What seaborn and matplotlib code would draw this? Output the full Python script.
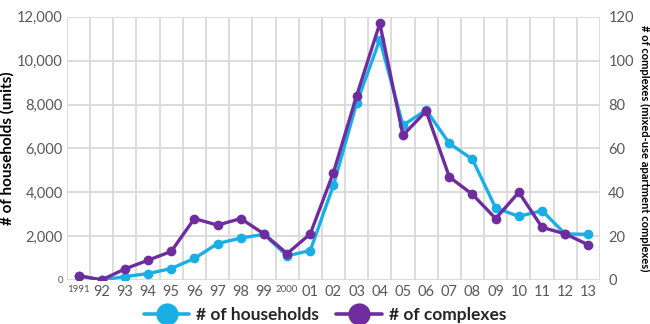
import matplotlib
matplotlib.use("Agg")
import matplotlib.pyplot as plt
import seaborn as sns
import pandas as pd
from matplotlib.lines import Line2D
from matplotlib.ticker import FuncFormatter, MultipleLocator

years = ["1991", "92", "93", "94", "95", "96", "97", "98", "99", "2000", "01", "02",
         "03", "04", "05", "06", "07", "08", "09", "10", "11", "12", "13"]
households = [180, 0, 150, 290, 520, 980, 1660, 1910, 2080, 1100, 1340, 4320,
              8060, 10960, 7050, 7750, 6230, 5500, 3280, 2900, 3160, 2100, 2080]
complexes = [2, 0, 5, 9, 13, 28, 25, 28, 21, 12, 21, 49,
             84, 117, 66, 77, 47, 39, 28, 40, 24, 21, 16]

CYAN = "#1AAFE4"
PURPLE = "#6F2C9F"
GRID = "#D9D9D9"
TICK = "#595959"

sns.set_theme(style="white")
plt.rcParams["font.family"] = ["Lato", "DejaVu Sans"]

df = pd.DataFrame({"idx": range(len(years)), "year": years,
                   "households": households, "complexes": complexes})

fig, ax = plt.subplots(figsize=(6.5, 3.24), dpi=100)
fig.subplots_adjust(left=0.103, right=0.923, top=0.948, bottom=0.136)
ax2 = ax.twinx()

sns.lineplot(data=df, x="idx", y="households", ax=ax, color=CYAN, marker="o",
             markersize=7, linewidth=2.4, markeredgewidth=0, legend=False)
sns.lineplot(data=df, x="idx", y="complexes", ax=ax2, color=PURPLE, marker="o",
             markersize=7, linewidth=2.4, markeredgewidth=0, legend=False)

n = len(years)
ax.set_xlim(-0.5, n - 0.5)
ax.set_ylim(0, 12000)
ax2.set_ylim(0, 120)
ax.yaxis.set_major_locator(MultipleLocator(2000))
ax2.yaxis.set_major_locator(MultipleLocator(20))
ax.yaxis.set_major_formatter(FuncFormatter(lambda v, p: f"{int(v):,}"))

# vertical grid at category boundaries
ax.set_xticks([i - 0.5 for i in range(n + 1)], minor=True)
ax.grid(True, which="minor", axis="x", color=GRID, linewidth=1.3)
ax.grid(True, which="major", axis="y", color=GRID, linewidth=1.3)
ax2.grid(False)
ax.set_axisbelow(True)
for a in (ax, ax2):
    for s in a.spines.values():
        s.set_visible(False)
ax.tick_params(axis="x", which="minor", length=0)
ax.tick_params(axis="y", which="major", length=0, pad=3, labelcolor=TICK, labelsize=10.5)
ax.tick_params(axis="x", which="major", length=0, pad=4, labelcolor=TICK, labelsize=10.5)
ax2.tick_params(axis="y", length=0, pad=6, labelcolor=TICK, labelsize=10.5)

ax.set_xticks(range(n))
ax.set_xticklabels(years)
for lbl in ax.get_xticklabels():
    if lbl.get_text() in ("1991", "2000"):
        lbl.set_fontsize(7)
fig.canvas.draw()
for lbl in ax.get_yticklabels():
    if lbl.get_text() == "0":
        lbl.set_fontsize(7)

ax.set_xlabel("")
ax.set_ylabel("# of households (units)", fontsize=11, fontweight="bold", color="black", labelpad=2)
ax2.set_ylabel("# of complexes (mixed-use apartment complexes)", fontsize=8, fontweight="bold",
               color="black", rotation=-90, labelpad=12)

handles = [Line2D([], [], color=CYAN, marker="o", markersize=16, linewidth=2.6, markeredgewidth=0),
           Line2D([], [], color=PURPLE, marker="o", markersize=16, linewidth=2.6, markeredgewidth=0)]
fig.legend(handles, ["# of households", "# of complexes"], loc="lower center",
           bbox_to_anchor=(0.5, -0.045), ncol=2, frameon=False, handlelength=2.6,
           columnspacing=1.0, handletextpad=0.4,
           prop={"size": 12.5, "weight": "bold"})

fig.savefig("out.png", dpi=100)
